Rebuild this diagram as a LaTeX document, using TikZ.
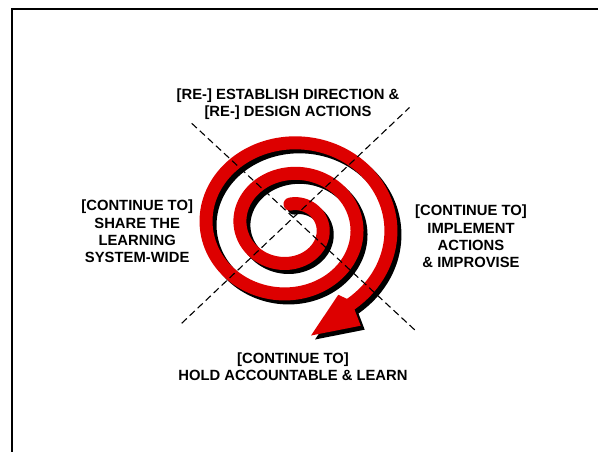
\documentclass[tikz,border=0pt]{standalone}
\usepackage{fontspec}
\setmainfont{Liberation Sans}
\definecolor{spiralred}{RGB}{221,0,0}
\begin{document}
\begin{tikzpicture}[x=1pt,y=-1pt,
  lbl/.style={font=\bfseries\fontsize{14.8}{17.3}\selectfont, align=center, inner sep=0pt, anchor=base},
  guide/.style={line width=1.1pt, dash pattern=on 7pt off 4pt},
  tube/.style={line width=13pt, line join=round, line cap=round},
  frameline/.style={line width=2pt}]
\useasboundingbox (0,0) rectangle (598,452);
\draw[frameline] (12,453) -- (12,9) -- (599,9);
% shadow
\begin{scope}[shift={(4,4)}]
  \draw[tube, black] plot[domain=-90:777, samples=320, variable=\t]
    ({290+(32.8+8.5*\t/90)*cos(\t)}, {226+0.9*(32.8+8.5*\t/90)*sin(\t)});
  \fill[black] (311,335.5) -- (338.3,294.8) -- (347.1,298.9) -- (354.5,309.5) -- (360.7,325.7) -- cycle;
\end{scope}
% red spiral
\draw[tube, spiralred] plot[domain=-90:777, samples=320, variable=\t]
    ({290+(32.8+8.5*\t/90)*cos(\t)}, {226+0.9*(32.8+8.5*\t/90)*sin(\t)});
\fill[spiralred] (311,335.5) -- (338.3,294.8) -- (347.1,298.9) -- (354.5,309.5) -- (360.7,325.7) -- cycle;
% dashed guides
\coordinate (d1a) at (191.7,123.3);
\coordinate (d1b) at (416.7,331.7);
\coordinate (d2a) at (181.7,323.3);
\coordinate (d2b) at (409.5,107.5);
\draw[guide] (d1a) -- (d1b);
\draw[guide] (d2a) -- (d2b);
% labels (anchor = baseline of last line)
\node[lbl] (top) at (288,116.7) {{[RE-]} ESTABLISH DIRECTION \&\\{}{[RE-]} DESIGN ACTIONS};
\node[lbl] (left) at (137.2,262.7) {{[CONTINUE TO]}\\SHARE THE\\LEARNING\\SYSTEM-WIDE};
\node[lbl] (right) at (471,267.7) {{[CONTINUE TO]}\\IMPLEMENT\\ACTIONS\\\& IMPROVISE};
\node[lbl] (bottom) at (293,380.7) {{[CONTINUE TO]}\\HOLD ACCOUNTABLE \& LEARN};
\end{tikzpicture}
\end{document}
